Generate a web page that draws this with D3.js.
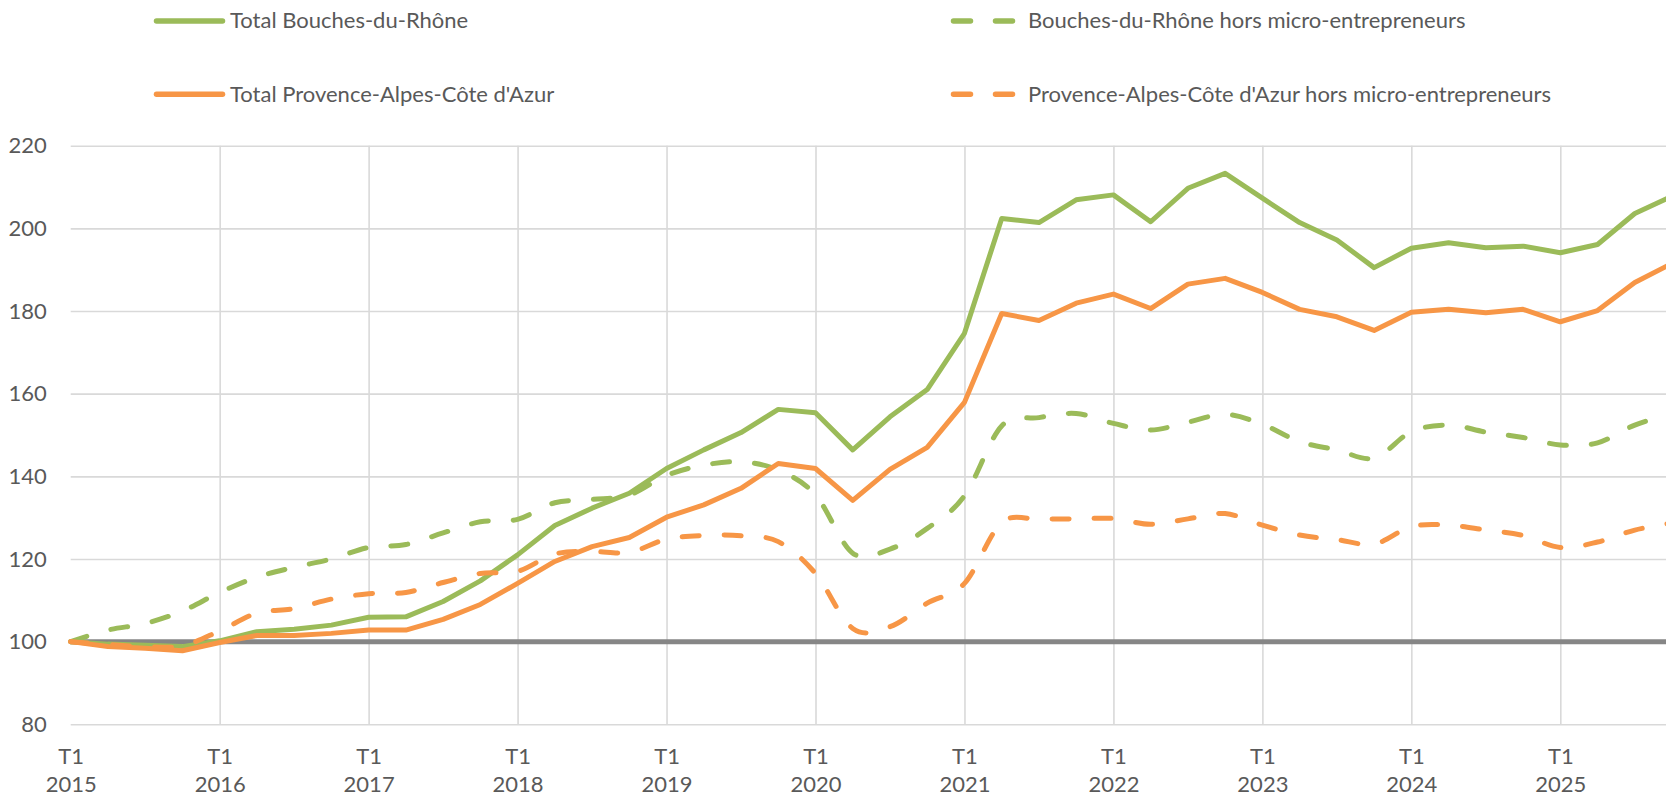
<!DOCTYPE html>
<html>
<head>
<meta charset="utf-8">
<script src="https://cdn.jsdelivr.net/npm/d3@7"></script>
<style>
  body { margin: 0; background: #fff; }
  svg { display: block; font-family: Lato, "Open Sans", sans-serif; }
</style>
</head>
<body>
<div id="chart"></div>
<script>
// categories
var years = [2015, 2016, 2017, 2018, 2019, 2020, 2021, 2022, 2023, 2024, 2025];
var quarterNames = ["T1", "T2", "T3", "T4"];
var yTicks = [80, 100, 120, 140, 160, 180, 200, 220];

// series (indice base 100 au T1 2015)
var totalBdr = [100, 99.4, 99.1, 98.8, 100.2, 102.4, 103.0, 104.0, 105.9, 106.0, 109.7, 114.7,
  121.0, 128.1, 132.3, 135.9, 141.9, 146.4, 150.6, 156.2, 155.4, 146.4, 154.4, 161.0,
  174.6, 202.4, 201.4, 206.9, 208.1, 201.6, 209.7, 213.3, 207.3, 201.4, 197.2, 190.5,
  195.2, 196.5, 195.3, 195.7, 194.1, 196.1, 203.6, 207.8];
var totalPaca = [100, 98.8, 98.4, 97.8, 99.8, 101.5, 101.5, 102.0, 102.8, 102.8, 105.4, 109.0,
  114.1, 119.4, 123.0, 125.2, 130.1, 133.1, 137.1, 143.1, 141.9, 134.2, 141.7, 147.0,
  157.9, 179.4, 177.7, 181.9, 184.1, 180.6, 186.5, 187.9, 184.5, 180.4, 178.6, 175.3,
  179.7, 180.4, 179.6, 180.4, 177.4, 180.1, 186.9, 191.5];
var bdrHorsMicro = [100, 102.8, 104.4, 107.4, 111.9, 115.6, 118.0, 120.0, 122.8, 123.5, 126.3, 129.0,
  129.6, 133.6, 134.4, 135.5, 140.2, 142.7, 143.5, 141.5, 135.5, 121.4, 122.4, 127.4,
  135.3, 152.2, 154.2, 155.2, 152.8, 151.2, 153.1, 155.0, 152.6, 148.4, 146.4, 144.4,
  150.8, 152.4, 150.7, 149.4, 147.6, 148.1, 152.4, 155.2];
var pacaHorsMicro = [100, 99.3, 98.8, 99.0, 102.6, 106.9, 108.0, 110.3, 111.6, 111.9, 114.3, 116.5,
  117.0, 121.2, 121.8, 121.6, 124.8, 125.7, 125.6, 124.2, 116.5, 103.2, 103.6, 109.3,
  114.1, 128.8, 129.6, 129.7, 129.8, 128.4, 129.7, 131.0, 128.2, 125.8, 124.7, 123.6,
  127.8, 128.2, 127.0, 125.7, 122.8, 124.1, 127.0, 128.7];
var reference = 100;

var quarters = [];
years.forEach(function(y) {
    quarterNames.forEach(function(q) { quarters.push(q + " " + y); });
});

var series = [
    {name: "Total Bouches-du-Rhône", values: totalBdr, color: "#9BBB59", dashed: false},
    {name: "Bouches-du-Rhône hors micro-entrepreneurs", values: bdrHorsMicro, color: "#9BBB59", dashed: true},
    {name: "Total Provence-Alpes-Côte d'Azur", values: totalPaca, color: "#F79646", dashed: false},
    {name: "Provence-Alpes-Côte d'Azur hors micro-entrepreneurs", values: pacaHorsMicro, color: "#F79646", dashed: true}
];

var width = 1666, height = 794;
var plotLeft = 70.7, step = 37.24, plotTop = 145.7, plotBottom = 724.3;
var textColor = "#595959";

var svg = d3.select("#chart").append("svg")
    .attr("width", width)
    .attr("height", height);

var x = d3.scalePoint()
    .domain(quarters)
    .range([plotLeft, plotLeft + step * (quarters.length - 1)]);

var y = d3.scaleLinear()
    .domain([80, 220])
    .range([plotBottom, plotTop]);

// horizontal gridlines + y labels
var yAxis = svg.append("g")
    .attr("transform", "translate(" + plotLeft + ",0)")
    .call(d3.axisLeft(y).tickValues(yTicks).tickSize(-(width - plotLeft)).tickPadding(24));
yAxis.select(".domain").remove();
yAxis.selectAll(".tick line").attr("stroke", "#d9d9d9").attr("stroke-width", 1.6);
yAxis.selectAll(".tick text")
    .attr("fill", textColor)
    .attr("font-size", 22)
    .attr("font-family", "Lato, 'Open Sans', sans-serif");

// vertical gridlines at each T1
var t1 = quarters.filter(function(q) { return q.indexOf("T1") === 0; });
var xAxis = svg.append("g")
    .attr("transform", "translate(0," + plotBottom + ")")
    .call(d3.axisBottom(x).tickValues(t1).tickSize(-(plotBottom - plotTop)).tickFormat(""));
xAxis.select(".domain").remove();
xAxis.selectAll(".tick line")
    .attr("stroke", "#d9d9d9").attr("stroke-width", 1.6)
    .attr("display", function(d, i) { return i === 0 ? "none" : null; });

var xLabels = xAxis.selectAll(".tick text")
    .attr("fill", textColor)
    .attr("font-size", 22)
    .attr("font-family", "Lato, 'Open Sans', sans-serif")
    .attr("y", 0).attr("dy", null);
xLabels.append("tspan").attr("x", 0).attr("y", 39.5).text(function(d) { return d.split(" ")[0]; });
xLabels.append("tspan").attr("x", 0).attr("y", 67.5).text(function(d) { return d.split(" ")[1]; });

// reference line at 100
svg.append("line")
    .attr("x1", plotLeft).attr("x2", width)
    .attr("y1", y(reference)).attr("y2", y(reference))
    .attr("stroke", "#868686")
    .attr("stroke-width", 5);

var straight = d3.line()
    .x(function(d, i) { return x(quarters[i]); })
    .y(function(d) { return y(d); });
var smooth = d3.line()
    .x(function(d, i) { return x(quarters[i]); })
    .y(function(d) { return y(d); })
    .curve(d3.curveCatmullRom.alpha(0));

svg.selectAll(".serie")
    .data(series)
    .enter().append("path")
    .attr("class", "serie")
    .attr("d", function(d) { return d.dashed ? smooth(d.values) : straight(d.values); })
    .attr("fill", "none")
    .attr("stroke", function(d) { return d.color; })
    .attr("stroke-width", 5)
    .attr("stroke-linejoin", "round")
    .attr("stroke-linecap", "round")
    .attr("stroke-dasharray", function(d) { return d.dashed ? "17,25" : null; });

// legend (2 x 2)
var legendPos = [
    {x: 154, y: 21}, {x: 951, y: 21},
    {x: 154, y: 94.3}, {x: 951, y: 94.3}
];
var legend = svg.selectAll(".legend")
    .data(series)
    .enter().append("g")
    .attr("class", "legend")
    .attr("transform", function(d, i) { return "translate(" + legendPos[i].x + "," + legendPos[i].y + ")"; });

legend.append("line")
    .attr("x1", 2.5)
    .attr("x2", function(d) { return d.dashed ? 61.5 : 68.5; })
    .attr("y1", 0).attr("y2", 0)
    .attr("stroke", function(d) { return d.color; })
    .attr("stroke-width", 5.5)
    .attr("stroke-linecap", "round")
    .attr("stroke-dasharray", function(d) { return d.dashed ? "17,25" : null; });

legend.append("text")
    .attr("x", function(d) { return d.dashed ? 77 : 76; })
    .attr("y", 7.3)
    .attr("fill", textColor)
    .attr("font-size", 22)
    .text(function(d) { return d.name; });
</script>
</body>
</html>
